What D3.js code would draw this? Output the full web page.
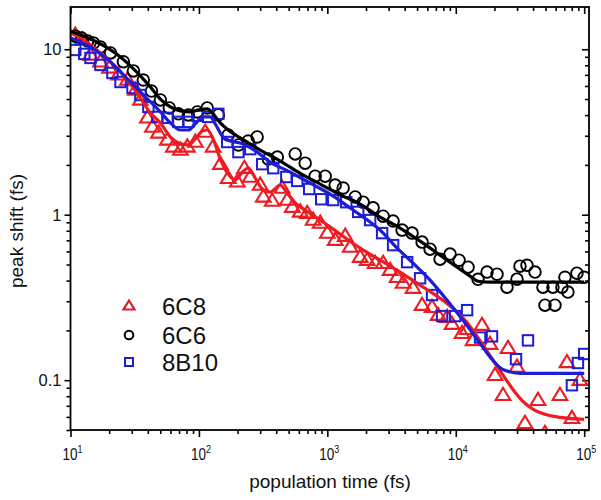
<!DOCTYPE html>
<html>
<head>
<meta charset="utf-8">
<script src="https://cdn.jsdelivr.net/npm/d3@7"></script>
<style>
body { margin: 0; background: #fff; }
svg text { font-family: "Liberation Sans", Arial, sans-serif; fill: #111; }
.tk line { stroke: #000; stroke-width: 1.6; }
</style>
</head>
<body>
<div id="chart"></div>
<script>
// 6C8 (red triangles)
var t6C8 = [10.9, 12.4, 14.3, 17.1, 20.1, 23.6, 27.8, 32.1, 35.0, 39.7, 43.4, 48.4, 56.8, 63.2, 71.7, 81.2, 93.8, 112, 129, 147, 169, 199, 226, 251, 300, 317, 372, 445, 487, 533, 615, 697, 775, 880, 1000, 1151, 1377, 1506, 1801, 2042, 2357, 2719, 3082, 3495, 3890, 4653, 5465, 6537, 7285, 8558, 9353, 11190, 12250, 13630, 16010, 18480, 20220, 23320, 25520, 29970, 34590, 43680, 49500, 64740, 73400, 80230, 92630];
var v6C8 = [12.2, 11.4, 9.24, 8.39, 7.71, 7.00, 6.52, 5.67, 4.94, 3.85, 3.39, 3.12, 2.83, 2.57, 2.46, 2.57, 2.75, 3.16, 2.57, 2.02, 1.66, 1.58, 1.91, 1.69, 1.51, 1.28, 1.21, 1.45, 1.226, 1.11, 1.04, 1.02, 0.928, 0.890, 0.774, 0.702, 0.742, 0.637, 0.554, 0.531, 0.509, 0.509, 0.462, 0.419, 0.386, 0.360, 0.284, 0.276, 0.247, 0.240, 0.218, 0.192, 0.203, 0.174, 0.215, 0.165, 0.107, 0.0811, 0.156, 0.120, 0.0549, 0.0756, 0.0478, 0.0811, 0.128, 0.0588, 0.100];
var fitT6C8 = [10, 11.96, 14.3, 17.1, 20.5, 24.5, 29.3, 35.0, 41.9, 50.1, 59.9, 71.7, 82.7, 93.8, 106, 116, 129, 146.7, 169, 192, 218, 242, 275, 311, 359, 430, 487, 562, 672, 880, 1259, 1801, 2577, 3687, 5275, 7547, 9877, 11810, 14130, 16900, 20220, 24180, 28930, 34590, 41390, 49500, 64740, 100000];
var fitV6C8 = [12.55, 11.7, 10.6, 9.49, 8.39, 7.30, 6.17, 5.07, 4.12, 3.59, 2.95, 2.68, 2.64, 2.87, 3.20, 3.25, 2.87, 2.17, 1.76, 1.62, 1.81, 1.91, 1.66, 1.43, 1.37, 1.51, 1.35, 1.18, 1.066, 0.928, 0.763, 0.628, 0.531, 0.450, 0.375, 0.313, 0.265, 0.230, 0.192, 0.156, 0.127, 0.103, 0.0846, 0.0725, 0.0657, 0.0622, 0.0596, 0.0580];

// 6C6 (black circles)
var t6C6 = [10.9, 12.2, 13.6, 15.1, 17.1, 20.5, 25.8, 30.9, 36.9, 42.7, 50.1, 58.8, 69.2, 82.7, 97.2, 116, 141.6, 169, 203, 242, 284, 347, 408, 562, 672, 804, 962, 1151, 1328, 1648, 1900, 2272, 2719, 3252, 3820, 4569, 5465, 6310, 7547, 9028, 10610, 12470, 14910, 17520, 20950, 25060, 29970, 31620, 35860, 41390, 47740, 49500, 57100, 59210, 67070, 70830, 74710, 87820, 100000];
var v6C6 = [12.0, 11.7, 11.2, 10.9, 10.3, 9.5, 8.4, 7.4, 6.52, 5.59, 4.94, 4.42, 4.07, 4.01, 4.18, 4.42, 4.01, 3.03, 2.64, 2.79, 2.95, 2.17, 2.23, 2.33, 2.05, 1.71, 1.71, 1.51, 1.45, 1.28, 1.19, 1.10, 0.98, 0.915, 0.807, 0.774, 0.683, 0.619, 0.539, 0.578, 0.531, 0.482, 0.407, 0.450, 0.437, 0.365, 0.408, 0.489, 0.495, 0.450, 0.365, 0.284, 0.365, 0.284, 0.365, 0.419, 0.341, 0.443, 0.419];
var fitT6C6 = [10, 11.96, 14.3, 17.1, 20.5, 24.5, 29.3, 35.0, 41.9, 50.1, 59.9, 71.7, 85.7, 100, 117, 127, 146.7, 169, 210, 300, 430, 615, 880, 1259, 1801, 2577, 3687, 5275, 7547, 10800, 12915, 14910, 18480, 100000];
var fitV6C6 = [12.9, 12.2, 11.54, 10.77, 9.90, 8.98, 7.93, 6.90, 5.91, 5.00, 4.48, 4.24, 4.18, 4.30, 4.36, 4.12, 3.59, 3.25, 2.91, 2.46, 2.11, 1.78, 1.53, 1.32, 1.16, 0.967, 0.831, 0.692, 0.570, 0.468, 0.425, 0.396, 0.391, 0.391];

// 8B10 (blue squares)
var t8B10 = [10.9, 12.8, 14.3, 17.1, 21.2, 24.5, 30.4, 35.0, 40.4, 47.5, 56.8, 69.2, 82.7, 97.2, 118, 141.6, 166, 203, 251, 311, 379, 479, 583, 722, 896, 1110, 1403, 1738, 2154, 2670, 3252, 4180, 5275, 6537, 7819, 9877, 12250, 15450, 19150, 29450, 36490, 80230, 89370, 100000];
var v8B10 = [9.90, 9.37, 8.86, 8.04, 7.19, 6.34, 5.83, 5.29, 4.48, 3.90, 3.85, 3.64, 3.64, 3.96, 3.90, 4.07, 2.75, 2.39, 2.49, 2.02, 1.91, 1.69, 1.60, 1.43, 1.24, 1.226, 1.19, 1.04, 0.928, 0.774, 0.655, 0.517, 0.413, 0.327, 0.244, 0.244, 0.265, 0.181, 0.184, 0.134, 0.174, 0.0932, 0.127, 0.144];
var fitT8B10 = [10, 11.96, 14.3, 17.1, 20.5, 24.5, 29.3, 35.0, 41.9, 50.1, 59.9, 71.7, 82.7, 93.8, 108, 122.6, 134, 152, 175.4, 210, 275, 359, 514, 735, 1052, 1506, 2154, 2577, 3495, 4653, 6310, 8558, 11390, 15450, 18480, 23320, 31620, 100000];
var fitV8B10 = [11.70, 11.07, 10.32, 9.37, 8.39, 7.30, 6.34, 5.52, 4.81, 4.18, 3.59, 3.25, 3.25, 3.54, 3.90, 3.90, 3.54, 2.99, 2.79, 2.71, 2.43, 2.08, 1.81, 1.55, 1.33, 1.097, 0.903, 0.807, 0.628, 0.509, 0.402, 0.304, 0.230, 0.167, 0.138, 0.116, 0.110, 0.110];

var xMajor = [10, 100, 1000, 10000, 100000];
var xExp = ["1", "2", "3", "4", "5"];
var yMajor = [0.1, 1, 10];
var yLabels = ["0.1", "1", "10"];
var seriesNames = ["6C8", "6C6", "8B10"];

var width = 601, height = 500;
var pLeft = 70.5, pRight = 589, pTop = 7, pBottom = 430;

var red = "#ee1b22", blue = "#1d1dd8", black = "#000";

var svg = d3.select("#chart").append("svg")
    .attr("width", width)
    .attr("height", height);

var x = d3.scaleLog().domain([10, 1.09e5]).range([pLeft, pRight]);
var y = d3.scaleLog().domain([0.05, 18]).range([pBottom, pTop]);

// minor ticks 2..9 in each decade
var xMinor = [];
[10, 100, 1000, 10000].forEach(function (d) {
    for (var k = 2; k <= 9; k++) xMinor.push(d * k);
});
var yMinor = [];
[0.01, 0.1, 1].forEach(function (d) {
    for (var k = 2; k <= 9; k++) {
        var v = +(d * k).toPrecision(3);
        if (v >= 0.05 && v <= 18) yMinor.push(v);
    }
});

function tickGroup(tr, axis) {
    svg.append("g").attr("class", "tk").attr("transform", tr)
        .call(axis)
        .call(function (g) { g.select(".domain").remove(); });
}

// bottom + top (top ticks also point down, inside)
tickGroup("translate(0," + pBottom + ")", d3.axisBottom(x).tickValues(xMinor).tickSize(4).tickFormat(""));
tickGroup("translate(0," + pBottom + ")", d3.axisBottom(x).tickValues(xMajor).tickSize(7).tickFormat(""));
tickGroup("translate(0," + pTop + ")", d3.axisBottom(x).tickValues(xMinor).tickSize(4).tickFormat(""));
tickGroup("translate(0," + pTop + ")", d3.axisBottom(x).tickValues(xMajor).tickSize(7).tickFormat(""));
// left + right (right ticks point left, inside)
tickGroup("translate(" + pLeft + ",0)", d3.axisLeft(y).tickValues(yMinor).tickSize(4).tickFormat(""));
tickGroup("translate(" + pLeft + ",0)", d3.axisLeft(y).tickValues(yMajor).tickSize(6).tickFormat(""));
tickGroup("translate(" + pRight + ",0)", d3.axisLeft(y).tickValues(yMinor).tickSize(4).tickFormat(""));
tickGroup("translate(" + pRight + ",0)", d3.axisLeft(y).tickValues(yMajor).tickSize(7).tickFormat(""));

// y tick labels
svg.append("g").selectAll("text")
    .data(yMajor)
    .enter().append("text")
    .attr("x", pLeft - 9)
    .attr("y", function (d) { return y(d); })
    .attr("dy", "0.36em")
    .attr("text-anchor", "end")
    .style("font-size", "16.5px")
    .text(function (d, i) { return yLabels[i]; });

// x tick labels 10^n
var xl = svg.append("g").selectAll("g")
    .data(xMajor)
    .enter().append("g")
    .attr("transform", function (d) { return "translate(" + (x(d) + 2) + ",460) scale(0.82,1)"; });
var xt = xl.append("text")
    .attr("text-anchor", "middle")
    .style("font-size", "16.5px");
xt.append("tspan").text("10");
xt.append("tspan")
    .attr("dy", "-7")
    .style("font-size", "11px")
    .text(function (d, i) { return xExp[i]; });

// plot clip
svg.append("clipPath").attr("id", "clip")
    .append("rect")
    .attr("x", pLeft).attr("y", pTop)
    .attr("width", pRight - pLeft).attr("height", pBottom - pTop);

var plot = svg.append("g").attr("clip-path", "url(#clip)");

function zip(ts, vs) {
    return ts.map(function (t, i) { return [t, vs[i]]; });
}

var triPath = "M0,-7.5L7.3,4.7L-7.3,4.7Z";

// markers
plot.append("g").selectAll("path")
    .data(zip(t6C8, v6C8))
    .enter().append("path")
    .attr("d", triPath)
    .attr("transform", function (d) { return "translate(" + x(d[0]) + "," + y(d[1]) + ")"; })
    .attr("fill", "none")
    .attr("stroke", red)
    .attr("stroke-width", 2.1);

plot.append("g").selectAll("circle")
    .data(zip(t6C6, v6C6))
    .enter().append("circle")
    .attr("cx", function (d) { return x(d[0]); })
    .attr("cy", function (d) { return y(d[1]); })
    .attr("r", 5.8)
    .attr("fill", "none")
    .attr("stroke", black)
    .attr("stroke-width", 1.9);

plot.append("g").selectAll("rect")
    .data(zip(t8B10, v8B10))
    .enter().append("rect")
    .attr("x", function (d) { return x(d[0]) - 5.2; })
    .attr("y", function (d) { return y(d[1]) - 5.2; })
    .attr("width", 10.4)
    .attr("height", 10.4)
    .attr("fill", "none")
    .attr("stroke", blue)
    .attr("stroke-width", 2);

// fit curves
var line = d3.line()
    .x(function (d) { return x(d[0]); })
    .y(function (d) { return y(d[1]); })
    .curve(d3.curveMonotoneX);

[[fitT6C8, fitV6C8, red], [fitT6C6, fitV6C6, black], [fitT8B10, fitV8B10, blue]].forEach(function (s) {
    plot.append("path")
        .datum(zip(s[0], s[1]))
        .attr("d", line)
        .attr("fill", "none")
        .attr("stroke", s[2])
        .attr("stroke-width", 3.2);
});

// frame
svg.append("rect")
    .attr("x", pLeft).attr("y", pTop)
    .attr("width", pRight - pLeft).attr("height", pBottom - pTop)
    .attr("fill", "none")
    .attr("stroke", "#000")
    .attr("stroke-width", 1.8);

// legend
var legY = [306, 335, 362];
var leg = svg.append("g");
leg.append("path")
    .attr("d", "M0,-5.5L5.5,3.5L-5.5,3.5Z")
    .attr("transform", "translate(129," + legY[0] + ")")
    .attr("fill", "none").attr("stroke", "#d21f2b").attr("stroke-width", 2.2);
leg.append("circle")
    .attr("cx", 129).attr("cy", legY[1]).attr("r", 4.3)
    .attr("fill", "none").attr("stroke", "#000").attr("stroke-width", 2);
leg.append("rect")
    .attr("x", 125).attr("y", legY[2] - 4).attr("width", 8).attr("height", 8)
    .attr("fill", "none").attr("stroke", blue).attr("stroke-width", 2);
leg.selectAll("text")
    .data(seriesNames)
    .enter().append("text")
    .attr("x", 162)
    .attr("y", function (d, i) { return legY[i] + 9; })
    .style("font-size", "24px")
    .text(function (d) { return d; });

// axis titles
svg.append("text")
    .attr("x", 330)
    .attr("y", 488)
    .attr("text-anchor", "middle")
    .style("font-size", "19px")
    .text("population time (fs)");

svg.append("text")
    .attr("transform", "translate(23,231) rotate(-90)")
    .attr("text-anchor", "middle")
    .style("font-size", "19px")
    .text("peak shift (fs)");
</script>
</body>
</html>
